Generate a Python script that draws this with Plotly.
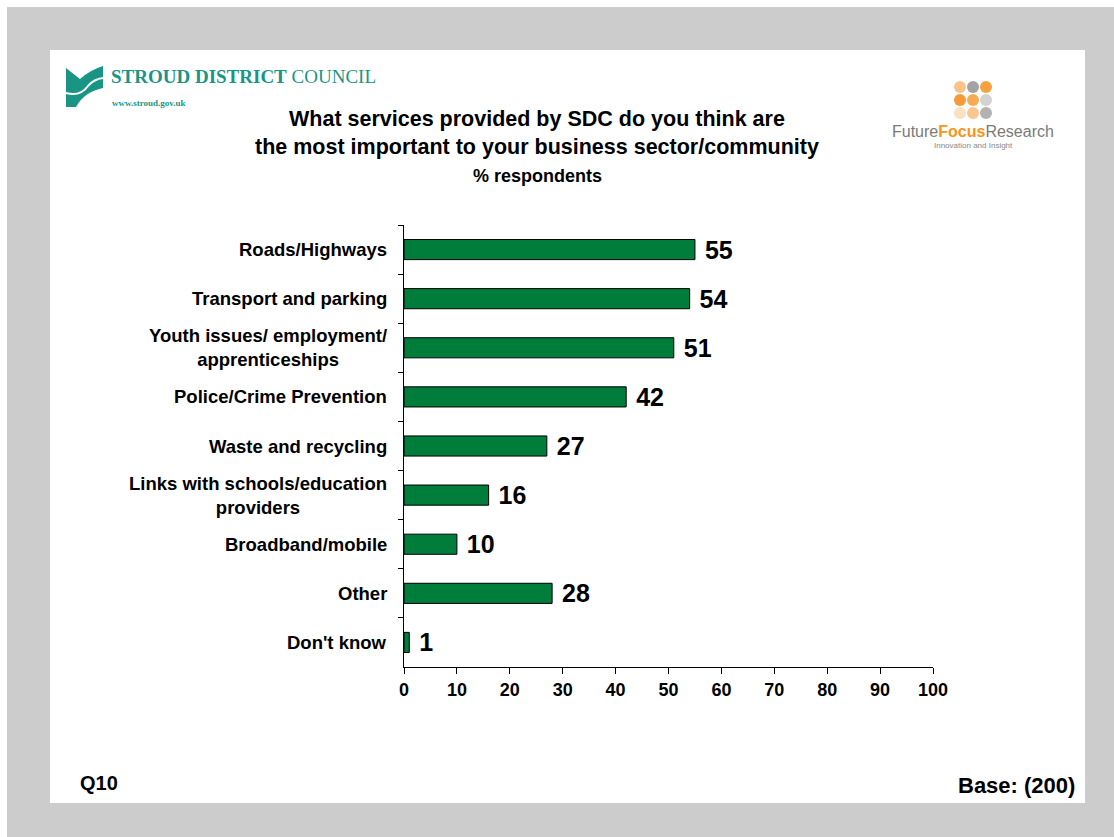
import plotly.graph_objects as go

# Survey results: % respondents naming each SDC service as most important
categories = [
    "Roads/Highways",
    "Transport and parking",
    "Youth issues/ employment/<br>apprenticeships",
    "Police/Crime Prevention",
    "Waste and recycling",
    "Links with schools/education<br>providers",
    "Broadband/mobile",
    "Other",
    "Don't know",
]
values = [55, 54, 51, 42, 27, 16, 10, 28, 1]
x_ticks = [0, 10, 20, 30, 40, 50, 60, 70, 80, 90, 100]

W, H = 1114, 837
FONT = "Liberation Sans, Arial, sans-serif"
SERIF = "Liberation Serif, Times New Roman, serif"
BAR_GREEN = "#007c3b"
TEAL = "#1a9585"


def px(x):
    return x / W


def py(y):
    return 1 - y / H


fig = go.Figure()

fig.add_trace(go.Bar(
    x=values,
    y=categories,
    orientation="h",
    marker=dict(color=BAR_GREEN, line=dict(color="#000000", width=1)),
    texttemplate=" %{x}",
    textposition="outside",
    cliponaxis=False,
    constraintext="none",
    textfont=dict(family=FONT, size=25, color="#000000", weight="bold"),
    hoverinfo="skip",
))

shapes = [
    # outer grey frame and white slide body
    dict(type="rect", xref="paper", yref="paper", x0=px(7), x1=1, y0=0, y1=py(7),
         fillcolor="#cccccc", line=dict(width=0), layer="below"),
    dict(type="rect", xref="paper", yref="paper", x0=px(50), x1=px(1085), y0=py(803), y1=py(50),
         fillcolor="#ffffff", line=dict(width=0), layer="below"),
    # council emblem
    dict(type="path", xref="paper", yref="paper",
         path=(f"M {px(66)},{py(68)} L {px(80)},{py(79)} Q {px(90)},{py(70)} {px(103)},{py(66)} "
               f"L {px(103)},{py(88)} Q {px(84)},{py(92)} {px(76)},{py(107)} L {px(66)},{py(107)} Z"),
         fillcolor=TEAL, line=dict(width=0)),
    dict(type="path", xref="paper", yref="paper",
         path=(f"M {px(66)},{py(93)} Q {px(80)},{py(97)} {px(88)},{py(86)} Q {px(94)},{py(79)} {px(103)},{py(78)}"),
         line=dict(color="#ffffff", width=2)),
]

# dotted emblem of the research agency
dot_cols = [
    ["#f9c38a", "#a3a3a3", "#f7a040"],
    ["#f79a38", "#f9aa55", "#d2d2d2"],
    ["#fbe0c2", "#f9c890", "#b3b3b3"],
]
for r, row in enumerate(dot_cols):
    for c, col in enumerate(row):
        cx, cy = 960 + 13 * c, 87 + 13 * r
        shapes.append(dict(type="circle", xref="paper", yref="paper",
                           x0=px(cx - 6), x1=px(cx + 6), y0=py(cy + 6), y1=py(cy - 6),
                           fillcolor=col, line=dict(width=0)))

annotations = []
# category labels, lines centred within a right-aligned block
for cat in categories:
    annotations.append(dict(
        x=px(389), xref="paper", y=cat, yref="y", xanchor="right", yanchor="middle",
        text=cat, showarrow=False, align="center",
        font=dict(family=FONT, size=18.5, color="#000000", weight="bold"),
    ))

annotations += [
    dict(x=px(537), y=py(133), xref="paper", yref="paper", xanchor="center", yanchor="middle",
         text="What services provided by SDC do you think are<br>the most important to your business sector/community",
         showarrow=False, align="center",
         font=dict(family=FONT, size=21.5, color="#000000", weight="bold")),
    dict(x=px(537), y=py(176), xref="paper", yref="paper", xanchor="center", yanchor="middle",
         text="% respondents", showarrow=False,
         font=dict(family=FONT, size=18, color="#000000", weight="bold")),
    dict(x=px(78), y=py(783), xref="paper", yref="paper", xanchor="left", yanchor="middle",
         text="Q10", showarrow=False,
         font=dict(family=FONT, size=20, color="#000000", weight="bold")),
    dict(x=px(1077), y=py(785), xref="paper", yref="paper", xanchor="right", yanchor="middle",
         text="Base: (200)", showarrow=False,
         font=dict(family=FONT, size=22, color="#000000", weight="bold")),
    dict(x=px(109), y=py(77), xref="paper", yref="paper", xanchor="left", yanchor="middle",
         text="<b>STROUD DISTRICT</b> COUNCIL", showarrow=False,
         font=dict(family=SERIF, size=19, color=TEAL)),
    dict(x=px(110), y=py(103), xref="paper", yref="paper", xanchor="left", yanchor="middle",
         text="<b>www.stroud.gov.uk</b>", showarrow=False,
         font=dict(family=SERIF, size=9, color=TEAL)),
    dict(x=px(973), y=py(132), xref="paper", yref="paper", xanchor="center", yanchor="middle",
         text=("<span style='color:#7a7a7a'>Future</span>"
               "<b><span style='color:#f7941d'>Focus</span></b>"
               "<span style='color:#7a7a7a'>Research</span>"),
         showarrow=False, font=dict(family=FONT, size=16)),
    dict(x=px(973), y=py(145), xref="paper", yref="paper", xanchor="center", yanchor="middle",
         text="Innovation and Insight", showarrow=False,
         font=dict(family=FONT, size=8, color="#888888")),
]

fig.update_layout(
    width=W, height=H,
    autosize=False,
    margin=dict(l=0, r=0, t=0, b=0, pad=0),
    paper_bgcolor="#ffffff",
    plot_bgcolor="rgba(0,0,0,0)",
    showlegend=False,
    bargap=0.59,
    shapes=shapes,
    annotations=annotations,
    xaxis=dict(
        domain=[px(404), px(933)],
        range=[0, 100],
        tickvals=x_ticks,
        ticktext=[str(t) for t in x_ticks],
        automargin=False,
        showgrid=False, zeroline=False,
        showline=True, linecolor="#000000", linewidth=1,
        ticks="outside", ticklen=6, tickcolor="#000000",
        tickfont=dict(family=FONT, size=18, color="#000000", weight="bold"),
        fixedrange=True,
    ),
    yaxis=dict(
        domain=[py(667), py(225)],
        categoryorder="array",
        categoryarray=categories,
        autorange="reversed",
        automargin=False,
        showgrid=False, zeroline=False,
        showline=True, linecolor="#000000", linewidth=1,
        ticks="outside", ticklen=5, tickcolor="#000000",
        tickson="boundaries",
        showticklabels=False,
        fixedrange=True,
    ),
)

fig.write_html("out.html", config={"displayModeBar": False})
